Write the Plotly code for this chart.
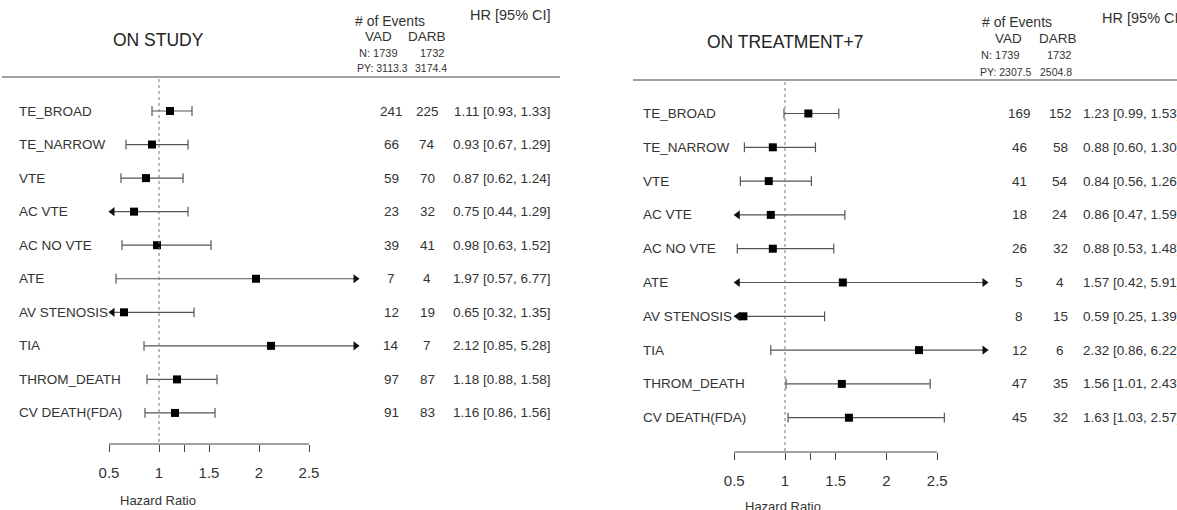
import plotly.graph_objects as go

W, H = 1177, 510
FONT = "Liberation Sans, Arial, sans-serif"

outcomes = ["TE_BROAD", "TE_NARROW", "VTE", "AC VTE", "AC NO VTE", "ATE",
            "AV STENOSIS", "TIA", "THROM_DEATH", "CV DEATH(FDA)"]

# ON STUDY
study_hr = [1.11, 0.93, 0.87, 0.75, 0.98, 1.97, 0.65, 2.12, 1.18, 1.16]
study_lo = [0.93, 0.67, 0.62, 0.44, 0.63, 0.57, 0.32, 0.85, 0.88, 0.86]
study_hi = [1.33, 1.29, 1.24, 1.29, 1.52, 6.77, 1.35, 5.28, 1.58, 1.56]
study_vad = [241, 66, 59, 23, 39, 7, 12, 14, 97, 91]
study_darb = [225, 74, 70, 32, 41, 4, 19, 7, 87, 83]
study_n = [1739, 1732]
study_py = ["3113.3", "3174.4"]

# ON TREATMENT+7
treat_hr = [1.23, 0.88, 0.84, 0.86, 0.88, 1.57, 0.59, 2.32, 1.56, 1.63]
treat_lo = [0.99, 0.60, 0.56, 0.47, 0.53, 0.42, 0.25, 0.86, 1.01, 1.03]
treat_hi = [1.53, 1.30, 1.26, 1.59, 1.48, 5.91, 1.39, 6.22, 2.43, 2.57]
treat_vad = [169, 46, 41, 18, 26, 5, 8, 12, 47, 45]
treat_darb = [152, 58, 54, 24, 32, 4, 15, 6, 35, 32]
treat_n = [1739, 1732]
treat_py = ["2307.5", "2504.8"]

tick_vals = [0.5, 1, 1.25, 1.5, 2, 2.5]
tick_text = ["0.5", "1", "", "1.5", "2", "2.5"]
clip_lo, clip_hi = 0.5, 3.0  # CI whiskers beyond these end in arrows

# layout of each panel, in screen pixels
panels = [
    dict(title="ON STUDY", hr=study_hr, lo=study_lo, hi=study_hi,
         vad=study_vad, darb=study_darb, n=study_n, py=study_py,
         xa="x", ya="y", dom=[0.0, 0.5], px1=159, ppu=100.0,
         row0=111, step=33.55, axis_px=444,
         hline=(2, 560, 77), title_xy=(158, 40), label_x=17,
         vad_x=391, darb_x=427, hr_right=553,
         ev_xy=(390, 21), vadh_xy=(378, 37), darbh_xy=(427, 37),
         n_xy=((357, 53), (432, 53)), py_xy=((355, 68), (431, 68)),
         hrh_xy=(553, 15), hz_xy=(158, 500)),
    dict(title="ON TREATMENT+7", hr=treat_hr, lo=treat_lo, hi=treat_hi,
         vad=treat_vad, darb=treat_darb, n=treat_n, py=treat_py,
         xa="x2", ya="y2", dom=[0.5, 1.0], px1=785, ppu=101.5,
         row0=113.5, step=33.8, axis_px=452,
         hline=(633, 1177, 80), title_xy=(785, 42), label_x=641,
         vad_x=1019, darb_x=1060, hr_right=1183,
         ev_xy=(1017, 22), vadh_xy=(1008, 39), darbh_xy=(1058, 39),
         n_xy=((979, 55), (1059, 55)), py_xy=((978, 72), (1056, 72)),
         hrh_xy=(1185, 18), hz_xy=(783, 506)),
]

fig = go.Figure()
annotations = []
shapes = []
layout_axes = {}


def px_ann(text, x, y, size, xanchor="center", color="#333"):
    annotations.append(dict(
        text=text, x=x / W, y=1 - y / H, xref="paper", yref="paper",
        xanchor=xanchor, yanchor="middle", showarrow=False,
        font=dict(family=FONT, size=size, color=color)))


for k, p in enumerate(panels):
    xa, ya = p["xa"], p["ya"]
    rows = list(range(len(outcomes)))

    # whiskers, clipped to the arrow limits
    lx, ly, cap_x, cap_y = [], [], [], []
    arr_l_x, arr_l_y, arr_r_x, arr_r_y = [], [], [], []
    off = 3.5 / p["ppu"]
    for i, (lo, hi) in enumerate(zip(p["lo"], p["hi"])):
        a, b = max(lo, clip_lo), min(hi, clip_hi)
        lx += [a, b, None]
        ly += [i, i, None]
        if lo < clip_lo:
            arr_l_x.append(clip_lo + off)
            arr_l_y.append(i)
        else:
            cap_x.append(lo)
            cap_y.append(i)
        if hi > clip_hi:
            arr_r_x.append(clip_hi - off)
            arr_r_y.append(i)
        else:
            cap_x.append(hi)
            cap_y.append(i)

    fig.add_trace(go.Scatter(x=lx, y=ly, mode="lines", xaxis=xa, yaxis=ya,
                             line=dict(color="#555", width=1.2),
                             hoverinfo="skip", showlegend=False))
    fig.add_trace(go.Scatter(x=cap_x, y=cap_y, mode="markers", xaxis=xa, yaxis=ya,
                             marker=dict(symbol="line-ns", size=7,
                                         line=dict(color="#555", width=1.2)),
                             cliponaxis=False, hoverinfo="skip", showlegend=False))
    fig.add_trace(go.Scatter(x=arr_l_x, y=arr_l_y, mode="markers", xaxis=xa, yaxis=ya,
                             marker=dict(symbol="triangle-left", size=8, color="#111"),
                             cliponaxis=False, hoverinfo="skip", showlegend=False))
    fig.add_trace(go.Scatter(x=arr_r_x, y=arr_r_y, mode="markers", xaxis=xa, yaxis=ya,
                             marker=dict(symbol="triangle-right", size=8, color="#111"),
                             cliponaxis=False, hoverinfo="skip", showlegend=False))
    fig.add_trace(go.Scatter(x=p["hr"], y=rows, mode="markers", xaxis=xa, yaxis=ya,
                             marker=dict(symbol="square", size=8, color="#000"),
                             cliponaxis=False, showlegend=False,
                             text=outcomes, hovertemplate="%{text}: %{x:.2f}<extra></extra>"))

    # axes: pixel-exact mapping of HR units and row index
    d0, d1 = p["dom"]
    x_lo = 1 + (d0 * W - p["px1"]) / p["ppu"]
    x_hi = 1 + (d1 * W - p["px1"]) / p["ppu"]
    y_top = -p["row0"] / p["step"]
    y_bot = (H - p["row0"]) / p["step"]
    xname = "xaxis" if k == 0 else "xaxis2"
    yname = "yaxis" if k == 0 else "yaxis2"
    layout_axes[xname] = dict(
        domain=p["dom"], range=[x_lo, x_hi], anchor="free",
        position=1 - p["axis_px"] / H, showline=False, showgrid=False,
        zeroline=False, ticks="outside", ticklen=7, tickwidth=1.1,
        tickcolor="#444", tickvals=tick_vals, ticktext=tick_text,
        ticklabelstandoff=8,
        tickfont=dict(family=FONT, size=15, color="#333"), fixedrange=True)
    layout_axes[yname] = dict(domain=[0, 1], range=[y_bot, y_top], visible=False,
                              anchor=xa, fixedrange=True)

    axis_row = (p["axis_px"] - p["row0"]) / p["step"]
    ref_top = (p["hline"][2] + 2 - p["row0"]) / p["step"]
    # axis baseline
    shapes.append(dict(type="line", xref=xa, yref=ya, x0=tick_vals[0], x1=tick_vals[-1],
                       y0=axis_row, y1=axis_row, line=dict(color="#444", width=1.1)))
    # reference line at HR = 1
    shapes.append(dict(type="line", xref=xa, yref=ya, x0=1, x1=1,
                       y0=ref_top, y1=axis_row, line=dict(color="#777", width=1, dash="dot")))
    # header rule
    x0, x1, yh = p["hline"]
    shapes.append(dict(type="line", xref="paper", yref="paper", x0=x0 / W, x1=x1 / W,
                       y0=1 - yh / H, y1=1 - yh / H, line=dict(color="#444", width=1.2)))

    # row texts
    for i, name in enumerate(outcomes):
        for txt, xpx, anc in (
            (name, p["label_x"], "left"),
            (str(p["vad"][i]), p["vad_x"], "center"),
            (str(p["darb"][i]), p["darb_x"], "center"),
            (f"{p['hr'][i]:.2f} [{p['lo'][i]:.2f}, {p['hi'][i]:.2f}]", p["hr_right"], "right"),
        ):
            annotations.append(dict(
                text=txt, x=xpx / W, y=i, xref="paper", yref=ya,
                xanchor=anc, yanchor="middle", showarrow=False,
                font=dict(family=FONT, size=13.5, color="#333")))

    # header texts
    px_ann(p["title"], *p["title_xy"], 17.5, color="#222")
    px_ann("# of Events", *p["ev_xy"], 14)
    px_ann("VAD", *p["vadh_xy"], 13.5)
    px_ann("DARB", *p["darbh_xy"], 13.5)
    px_ann(f"N: {p['n'][0]}", *p["n_xy"][0], 11, xanchor="left")
    px_ann(str(p["n"][1]), *p["n_xy"][1], 11)
    px_ann(f"PY: {p['py'][0]}", *p["py_xy"][0], 10.5, xanchor="left")
    px_ann(p["py"][1], *p["py_xy"][1], 10.5)
    px_ann("HR [95% CI]", *p["hrh_xy"], 14.5, xanchor="right")
    px_ann("Hazard Ratio", *p["hz_xy"], 13)

fig.update_layout(
    width=W, height=H, margin=dict(l=0, r=0, t=0, b=0),
    paper_bgcolor="white", plot_bgcolor="white",
    showlegend=False, annotations=annotations, shapes=shapes,
    font=dict(family=FONT, color="#333"),
    **layout_axes,
)

fig.write_html("out.html")
